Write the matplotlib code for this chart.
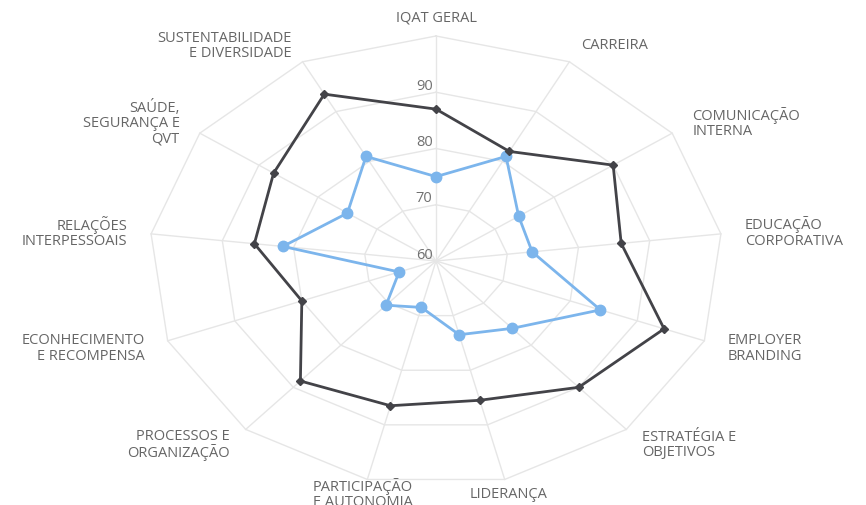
import numpy as np
import matplotlib.pyplot as plt

categories = [
    "IQAT GERAL", "CARREIRA", "COMUNICAÇÃO\nINTERNA", "EDUCAÇÃO\nCORPORATIVA",
    "EMPLOYER\nBRANDING", "ESTRATÉGIA E\nOBJETIVOS", "LIDERANÇA",
    "PARTICIPAÇÃO\nE AUTONOMIA", "PROCESSOS E\nORGANIZAÇÃO",
    "ECONHECIMENTO\nE RECOMPENSA", "RELAÇÕES\nINTERPESSOAIS",
    "SAÚDE,\nSEGURANÇA E\nQVT", "SUSTENTABILIDADE\nE DIVERSIDADE",
]
series_blue = [75, 81, 74, 73.5, 84.5, 76, 73.5, 68.5, 70.5, 65.5, 81.5, 75, 81]
series_dark = [87, 82, 90, 86, 94, 90, 85.5, 86.5, 88.5, 80, 85.5, 87.5, 93.5]
ring_values = [70, 80, 90, 100]
tick_labels = ["60", "70", "80", "90"]
r_min, r_max = 60, 100

n = len(categories)
theta = np.arange(n) * 2 * np.pi / n


def to_xy(values):
    u = (np.asarray(values, dtype=float) - r_min) / (r_max - r_min)
    return u * np.sin(theta), u * np.cos(theta)


fig = plt.figure(figsize=(8.66, 5.06), dpi=100)
# axes spans the radar box: centre at (436, 262) px, rx 287 px, ry 225 px
W, H = 866, 506
cx, cy, rx, ry = 436, 262, 287, 225
ax = fig.add_axes([(cx - rx) / W, (H - cy - ry) / H, 2 * rx / W, 2 * ry / H])
ax.set_xlim(-1, 1)
ax.set_ylim(-1, 1)
ax.axis("off")

grid_color = "#e6e6e6"
for rv in ring_values:
    u = (rv - r_min) / (r_max - r_min)
    gx = np.append(u * np.sin(theta), u * np.sin(theta[0]))
    gy = np.append(u * np.cos(theta), u * np.cos(theta[0]))
    ax.plot(gx, gy, color=grid_color, lw=1, zorder=1, clip_on=False)
for t in theta:
    ax.plot([0, np.sin(t)], [0, np.cos(t)], color=grid_color, lw=1, zorder=1, clip_on=False)

# radial tick labels, left of the top spoke
for i, lab in enumerate(tick_labels):
    u = i * 10 / (r_max - r_min)
    ax.text(-0.012, u + 0.03, lab, ha="right", va="center", fontsize=10.5,
            color="#707070", family="Open Sans")

# series
for vals, color, marker, ms, z in [
    (series_blue, "#7cb5ec", "o", 7.5, 3),
    (series_dark, "#434348", "D", 4.5, 4),
]:
    x, y = to_xy(vals)
    ax.plot(np.append(x, x[0]), np.append(y, y[0]), color=color, lw=2,
            zorder=z, clip_on=False)
    ax.plot(x, y, ls="none", marker=marker, color=color, ms=ms,
            zorder=z, clip_on=False)

# category labels
for t, lab in zip(theta, categories):
    s, c = np.sin(t), np.cos(t)
    if abs(s) < 0.3:
        ha, ma = "center", "center"
        if c > 0:
            r, va = 1.05, "bottom"
        else:
            r, va = 1.062, "center"
    else:
        r = 1.085
        ha = "left" if s > 0 else "right"
        va = "center"
        ma = ha
    ax.text(r * s, r * c, lab, ha=ha, va=va, multialignment=ma, fontsize=10.5,
            color="#666666", family="Open Sans", linespacing=1.02, clip_on=False)

fig.savefig("out.png", dpi=100)
